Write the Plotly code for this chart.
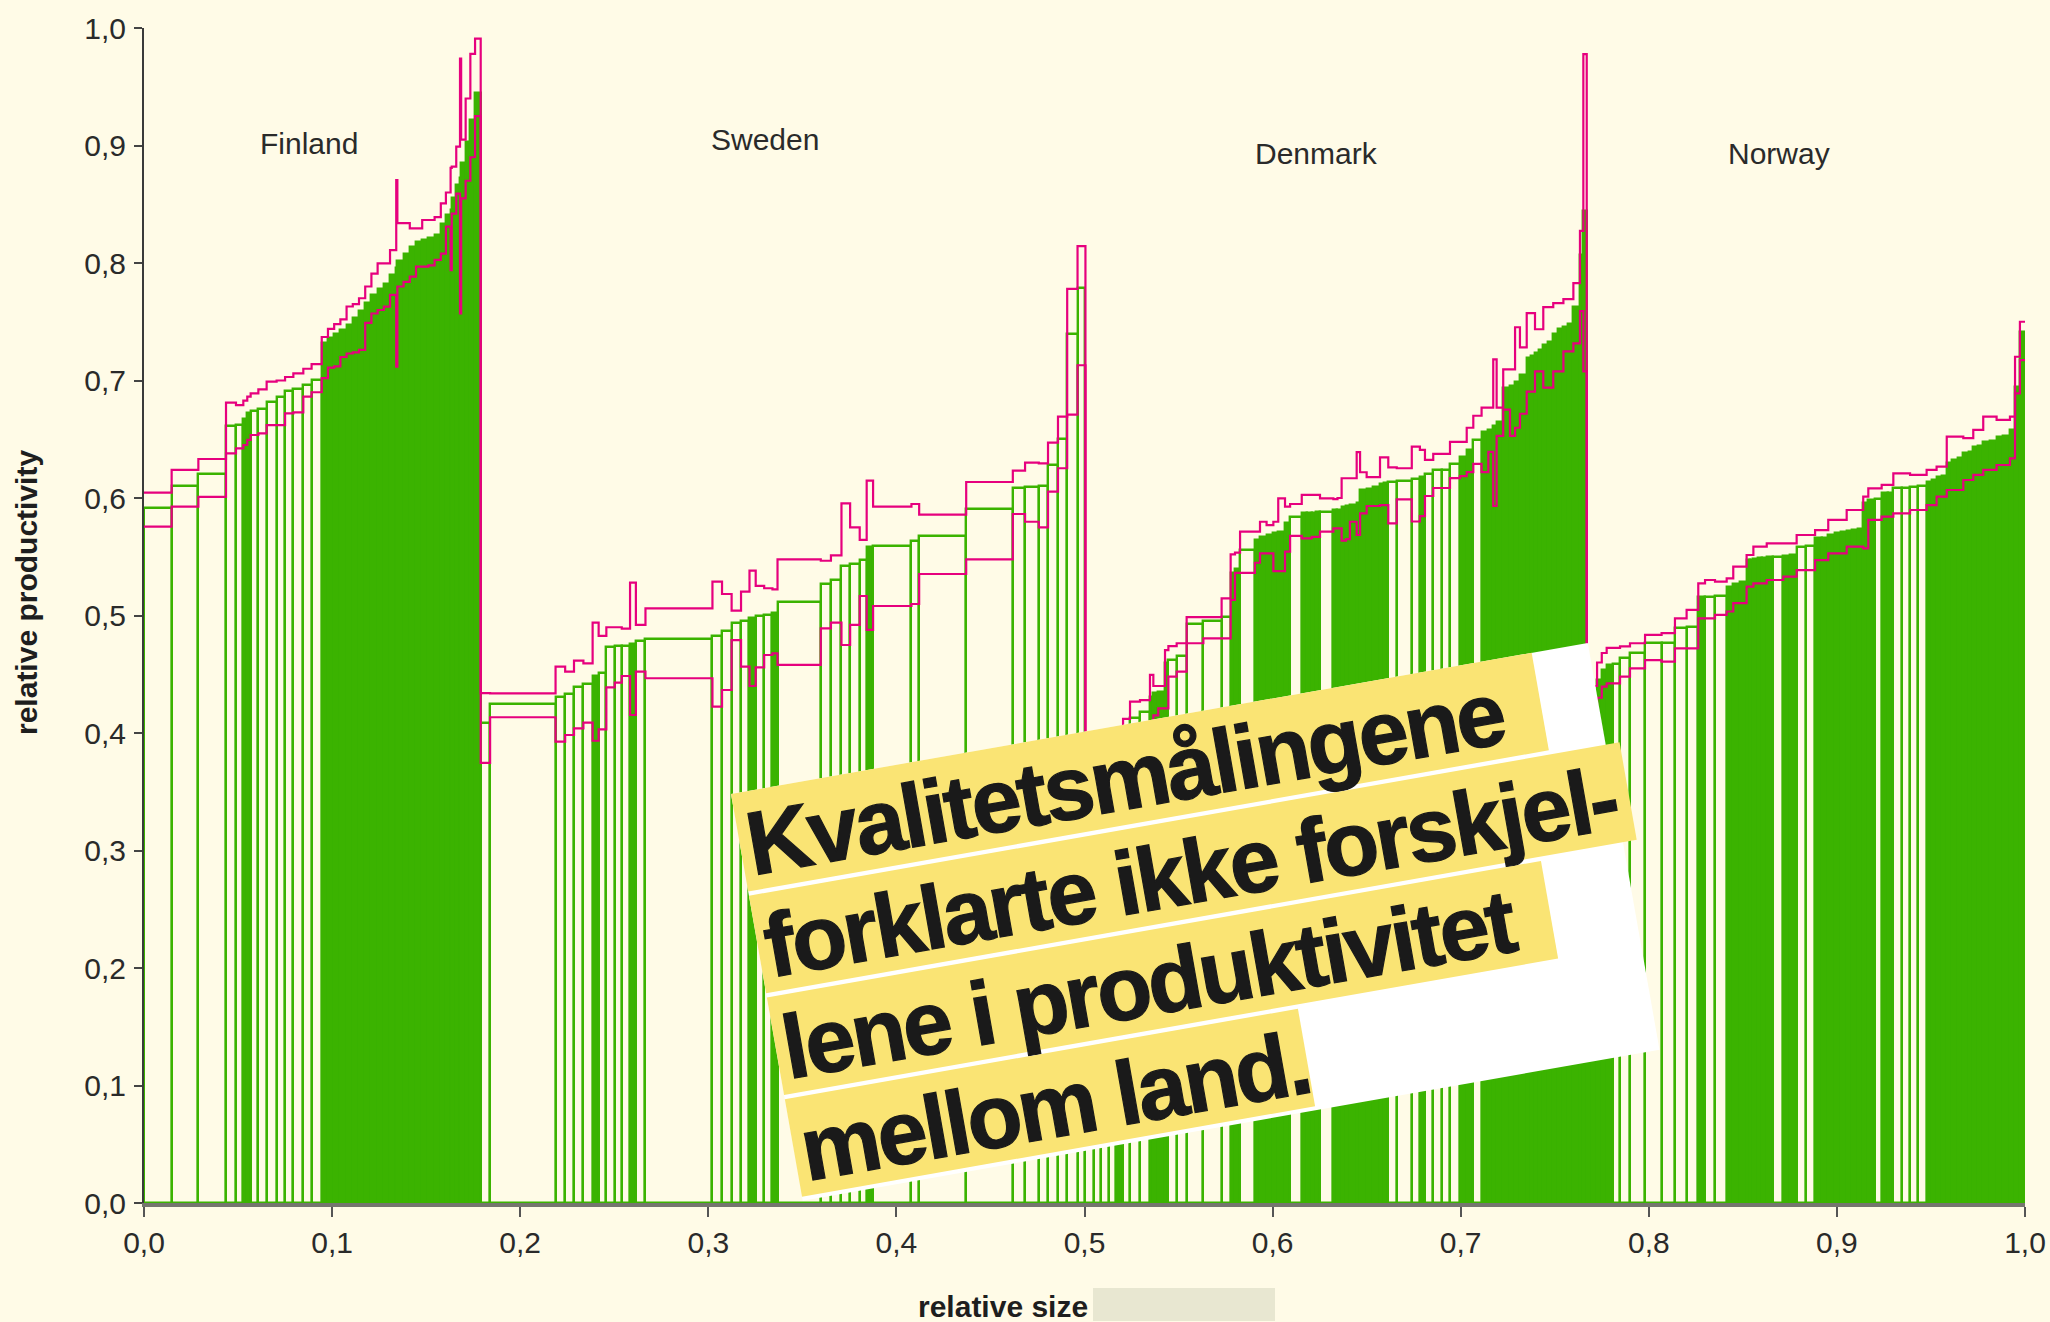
import math
import numpy as np
import plotly.graph_objects as go

# ---------------- data ----------------
COUNTRIES = ["Finland", "Sweden", "Denmark", "Norway"]
TICKS = [0.0, 0.1, 0.2, 0.3, 0.4, 0.5, 0.6, 0.7, 0.8, 0.9, 1.0]

FIN_SIZE = [0.0147, 0.0142, 0.0147, 0.0053, 0.0039, 0.0021, 0.0018, 0.0041, 0.0044, 0.0053,
            0.0045, 0.0044, 0.0053, 0.0044, 0.0054,
            0.0033, 0.0033, 0.0033, 0.0033, 0.0033, 0.0033, 0.0033, 0.0033, 0.0033, 0.0033,
            0.0033, 0.0033, 0.0006, 0.0033, 0.0033, 0.0033, 0.0033, 0.0033, 0.0033, 0.0033,
            0.0027, 0.0025, 0.0006, 0.0024, 0.0020, 0.0006, 0.0024, 0.0025, 0.0025, 0.0030]
FIN_PROD = [0.5917, 0.610, 0.6204, 0.6613, 0.6621, 0.6670, 0.6721, 0.6743, 0.6755, 0.6821,
            0.6862, 0.6913, 0.6925, 0.6962, 0.7004,
            0.732, 0.736, 0.740, 0.743, 0.747, 0.753, 0.759, 0.766, 0.773, 0.778,
            0.782, 0.790, 0.796, 0.802, 0.808, 0.814, 0.818, 0.820, 0.821, 0.824,
            0.833, 0.841, 0.845, 0.855, 0.866, 0.872, 0.885, 0.903, 0.922, 0.945]
FIN_HIGH = [0.6045, 0.624, 0.6332, 0.6811, 0.6791, 0.6828, 0.6862, 0.6891, 0.6925, 0.699,
            0.700, 0.703, 0.706, 0.710, 0.714,
            0.737, 0.744, 0.748, 0.752, 0.763, 0.765, 0.770, 0.780, 0.791, 0.7997,
            0.7997, 0.811, 0.8706, 0.834, 0.834, 0.8295, 0.8295, 0.8366, 0.8366, 0.839,
            0.8508, 0.860, 0.881, 0.882, 0.899, 0.974, 0.905, 0.940, 0.978, 0.991]
FIN_LOW = [0.5757, 0.5926, 0.601, 0.638, 0.6423, 0.6451, 0.6494, 0.6536, 0.655, 0.6621,
           0.6621, 0.6721, 0.6729, 0.6862, 0.690,
           0.702, 0.711, 0.712, 0.720, 0.723, 0.724, 0.726, 0.749, 0.757, 0.760,
           0.7628, 0.7728, 0.7117, 0.780, 0.784, 0.7884, 0.7969, 0.7969, 0.798, 0.8026,
           0.808, 0.831, 0.794, 0.842, 0.859, 0.757, 0.855, 0.870, 0.890, 0.925]

SWE_SIZE = [0.0050, 0.0348, 0.0051, 0.0047, 0.0050, 0.0049, 0.0032, 0.0041, 0.0045, 0.0037,
            0.0044, 0.0031, 0.0051, 0.0356, 0.0051, 0.0051, 0.0050, 0.0045, 0.0033, 0.0045,
            0.0044, 0.0027, 0.0230, 0.0054, 0.0056, 0.0046, 0.0051, 0.0037, 0.0034, 0.0204,
            0.0041, 0.0250, 0.0248, 0.0065, 0.0073, 0.0049, 0.0053, 0.0049, 0.0055, 0.0042]
SWE_PROD = [0.4085, 0.4247, 0.4309, 0.4332, 0.4394, 0.4417, 0.4485, 0.4513, 0.4729, 0.4740,
            0.4740, 0.4754, 0.4786, 0.4797, 0.4826, 0.4871, 0.4939, 0.4956, 0.4976, 0.4996,
            0.5004, 0.5019, 0.5118, 0.5268, 0.5302, 0.5421, 0.5438, 0.5472, 0.5586, 0.5591,
            0.5637, 0.5679, 0.5904, 0.6082, 0.6091, 0.6102, 0.6281, 0.6500, 0.7396, 0.7787]
SWE_HIGH = [0.434, 0.4338, 0.4565, 0.4523, 0.4616, 0.4593, 0.4939, 0.4826, 0.4900, 0.4900,
            0.4889, 0.5280, 0.4920, 0.5061, 0.5288, 0.5183, 0.5041, 0.5203, 0.5382, 0.5252,
            0.5232, 0.5223, 0.5478, 0.5466, 0.5512, 0.5954, 0.5750, 0.5643, 0.6148, 0.5926,
            0.5949, 0.5858, 0.6136, 0.6233, 0.6301, 0.6295, 0.6471, 0.6692, 0.778, 0.8144]
SWE_LOW = [0.3745, 0.4134, 0.3926, 0.3983, 0.4040, 0.4088, 0.3934, 0.4031, 0.4389, 0.4429,
           0.4485, 0.4153, 0.4523, 0.4466, 0.4224, 0.4366, 0.4791, 0.4565, 0.4400, 0.4559,
           0.4664, 0.4678, 0.4579, 0.4891, 0.4939, 0.4749, 0.4920, 0.5166, 0.4877, 0.5081,
           0.5098, 0.5353, 0.5478, 0.5864, 0.5798, 0.5750, 0.6054, 0.6253, 0.671, 0.713]

DEN_SIZE = [0.0045, 0.0040, 0.0040, 0.0040, 0.0035, 0.0037, 0.0053, 0.0053, 0.0018, 0.0026,
            0.0036, 0.0018, 0.0044, 0.0053, 0.0089, 0.0097, 0.0048, 0.0023, 0.0027, 0.0079,
            0.0027, 0.0035, 0.0036, 0.0026, 0.0036, 0.0027, 0.0062, 0.0030, 0.0023, 0.0022,
            0.0022, 0.0071, 0.0022, 0.0022, 0.0023, 0.0021, 0.0036, 0.0018, 0.0035, 0.0035,
            0.0036, 0.0022, 0.0022, 0.0045, 0.0080, 0.0043, 0.0027, 0.0044, 0.0046, 0.0043,
            0.0053, 0.0036, 0.0035, 0.0044, 0.0036, 0.0026, 0.0018, 0.0035, 0.0036, 0.0027,
            0.0026, 0.0036, 0.0022, 0.0022, 0.0022, 0.0022, 0.0026, 0.0027, 0.0027, 0.0027,
            0.0026, 0.0027, 0.0035, 0.0018, 0.0018]
DEN_PROD = [0.33, 0.35, 0.36, 0.37, 0.385, 0.40, 0.413, 0.4181, 0.4309, 0.4338,
            0.4352, 0.4598, 0.4621, 0.4655, 0.4928, 0.4956, 0.4985, 0.5364, 0.5400, 0.5557,
            0.5642, 0.5670, 0.5685, 0.5699, 0.5713, 0.5784, 0.5835, 0.5869, 0.5872, 0.5875,
            0.5878, 0.5884, 0.5894, 0.5898, 0.5926, 0.5930, 0.5940, 0.5960, 0.6066, 0.6076,
            0.6090, 0.6123, 0.6125, 0.6137, 0.6146, 0.6166, 0.6180, 0.6204, 0.6238, 0.6238,
            0.6290, 0.6352, 0.6410, 0.6495, 0.6564, 0.6580, 0.6615, 0.6648, 0.6940, 0.6957,
            0.6991, 0.7043, 0.7190, 0.7205, 0.7235, 0.7260, 0.7300, 0.7330, 0.7400, 0.7435,
            0.7455, 0.7480, 0.7624, 0.8068, 0.8445]
DEN_HIGH = [0.35, 0.37, 0.38, 0.39, 0.40, 0.412, 0.4267, 0.428, 0.4494, 0.4400,
            0.4400, 0.4706, 0.4740, 0.4764, 0.4987, 0.4987, 0.5146, 0.5521, 0.5535, 0.5713,
            0.5713, 0.5798, 0.5770, 0.5798, 0.5997, 0.5926, 0.5949, 0.6026, 0.6026, 0.6026,
            0.6026, 0.5997, 0.5990, 0.6000, 0.6168, 0.6168, 0.6168, 0.6390, 0.6219, 0.6177,
            0.6177, 0.6346, 0.6346, 0.6261, 0.6253, 0.6437, 0.6410, 0.6324, 0.6375, 0.6375,
            0.6478, 0.6478, 0.6598, 0.6700, 0.6769, 0.6769, 0.7180, 0.6769, 0.7094, 0.7094,
            0.7453, 0.7282, 0.7573, 0.7573, 0.7436, 0.7436, 0.7624, 0.7624, 0.7658, 0.7658,
            0.7692, 0.7692, 0.7829, 0.8273, 0.9778]
DEN_LOW = [0.31, 0.33, 0.34, 0.35, 0.365, 0.385, 0.400, 0.405, 0.410, 0.415,
           0.4209, 0.4209, 0.4479, 0.4522, 0.4764, 0.4806, 0.4806, 0.5132, 0.5362, 0.5362,
           0.5449, 0.5529, 0.5529, 0.5378, 0.5378, 0.5543, 0.5677, 0.5657, 0.5657, 0.5670,
           0.5670, 0.5713, 0.5742, 0.5742, 0.5637, 0.5650, 0.5798, 0.5685, 0.5869, 0.5932,
           0.5932, 0.5940, 0.5940, 0.5784, 0.5989, 0.5800, 0.5846, 0.6017, 0.6085, 0.6085,
           0.6170, 0.6187, 0.6221, 0.6290, 0.6221, 0.6393, 0.5932, 0.6529, 0.6752, 0.6529,
           0.6598, 0.6717, 0.6905, 0.6905, 0.7077, 0.7077, 0.6940, 0.6940, 0.7077, 0.7077,
           0.7248, 0.7248, 0.7316, 0.7590, 0.7077]

NOR_SIZE = [0.0030, 0.0025, 0.0025, 0.0026, 0.0034, 0.0037, 0.0053, 0.0080, 0.0088, 0.0071,
            0.0062, 0.0062, 0.0036, 0.0053, 0.0062, 0.0035, 0.0036, 0.0035, 0.0018, 0.0018,
            0.0024, 0.0024, 0.0023, 0.0035, 0.0053, 0.0035, 0.0036, 0.0049, 0.0049, 0.0036,
            0.0034, 0.0036, 0.0030, 0.0032, 0.0030, 0.0030, 0.0028, 0.0027, 0.0033, 0.0038,
            0.0032, 0.0030, 0.0045, 0.0044, 0.0044, 0.0044, 0.0026, 0.0027, 0.0027, 0.0027,
            0.0029, 0.0030, 0.0029, 0.0028, 0.0025, 0.0027, 0.0026, 0.0036, 0.0035, 0.0036,
            0.0035, 0.0027, 0.0026, 0.0027]
NOR_PROD = [0.40, 0.42, 0.445, 0.4536, 0.4579, 0.4590, 0.4635, 0.4684, 0.4764, 0.4764,
            0.4891, 0.4905, 0.5160, 0.5160, 0.5165, 0.5245, 0.5270, 0.5288, 0.5472, 0.5475,
            0.5480, 0.5487, 0.5490, 0.5501, 0.5501, 0.5510, 0.5515, 0.5586, 0.5590, 0.5657,
            0.5660, 0.5685, 0.5700, 0.5710, 0.5720, 0.5727, 0.5735, 0.5954, 0.5983, 0.5990,
            0.6040, 0.6045, 0.6082, 0.6085, 0.6097, 0.6100, 0.6139, 0.6150, 0.6182, 0.6190,
            0.6300, 0.6324, 0.6340, 0.6381, 0.6390, 0.6438, 0.6445, 0.6480, 0.6485, 0.6523,
            0.6530, 0.6580, 0.6947, 0.7415]
NOR_HIGH = [0.42, 0.44, 0.46, 0.4681, 0.4724, 0.4724, 0.4738, 0.4764, 0.4835, 0.4850,
            0.4976, 0.5048, 0.5274, 0.5302, 0.5288, 0.5316, 0.5416, 0.5416, 0.5515, 0.5515,
            0.5586, 0.5586, 0.5586, 0.5614, 0.5614, 0.5614, 0.5614, 0.5685, 0.5685, 0.5727,
            0.5727, 0.5813, 0.5813, 0.5813, 0.5898, 0.5898, 0.5898, 0.6011, 0.6082, 0.6082,
            0.6111, 0.6111, 0.6210, 0.6210, 0.6196, 0.6196, 0.6239, 0.6239, 0.6267, 0.6267,
            0.6523, 0.6523, 0.6523, 0.6509, 0.6509, 0.6580, 0.6580, 0.6693, 0.6693, 0.6665,
            0.6665, 0.6693, 0.7202, 0.7500]
NOR_LOW = [0.38, 0.40, 0.43, 0.4394, 0.4423, 0.4423, 0.4479, 0.4550, 0.4621, 0.4607,
           0.4721, 0.4721, 0.4976, 0.4976, 0.5005, 0.5034, 0.5106, 0.5106, 0.5245, 0.5245,
           0.5274, 0.5274, 0.5274, 0.5302, 0.5302, 0.5330, 0.5330, 0.5387, 0.5387, 0.5472,
           0.5472, 0.5529, 0.5529, 0.5529, 0.5586, 0.5586, 0.5586, 0.5572, 0.5813, 0.5813,
           0.5841, 0.5841, 0.5869, 0.5869, 0.5898, 0.5898, 0.5940, 0.5940, 0.6011, 0.6011,
           0.6068, 0.6068, 0.6068, 0.6153, 0.6153, 0.6196, 0.6196, 0.6239, 0.6239, 0.6281,
           0.6281, 0.6338, 0.6891, 0.7174]

HEADLINE = ["Kvalitetsmålingene", "forklarte ikke forskjel-", "lene i produktivitet", "mellom land."]

# ---------------- assemble ----------------
sizes = np.array(FIN_SIZE + SWE_SIZE + DEN_SIZE + NOR_SIZE)
prod = np.array(FIN_PROD + SWE_PROD + DEN_PROD + NOR_PROD)
high = np.array(FIN_HIGH + SWE_HIGH + DEN_HIGH + NOR_HIGH)
low = np.array(FIN_LOW + SWE_LOW + DEN_LOW + NOR_LOW)

left = np.concatenate([[0.0], np.cumsum(sizes)[:-1]])
centers = left + sizes / 2
edges = np.append(left, left[-1] + sizes[-1])

BG = "#fffbe7"
GREEN = "#3bb300"
MAGENTA = "#e6007e"
INK = "#2a2a2a"
FONT = "Liberation Sans, Arial, sans-serif"

# narrow bars read as solid green blocks, wide ones as outlines
fills = [GREEN if w < 0.00365 else "rgba(0,0,0,0)" for w in sizes]

fig = go.Figure()
fig.add_trace(go.Bar(x=centers, y=prod, width=sizes,
                     marker=dict(color=fills, line=dict(color=GREEN, width=2.4)),
                     hoverinfo="skip"))
for band in (low, high):
    fig.add_trace(go.Scatter(x=edges, y=np.append(band, band[-1]), mode="lines",
                             line=dict(color=MAGENTA, width=2.2, shape="hv"),
                             hoverinfo="skip"))

# ---------------- layout ----------------
L, R, T, B = 144, 25, 28, 119
W, H = 2050, 1322
PW, PH = W - L - R, H - T - B


def to_paper(X, Y):
    return (X - L) / PW, (H - B - Y) / PH


ang = math.radians(10)
OX, OY = 731, 794


def frame(u, v):
    X = OX + u * math.cos(ang) + v * math.sin(ang)
    Y = OY - u * math.sin(ang) + v * math.cos(ang)
    return to_paper(X, Y)


def rot_rect(u0, u1, v0, v1):
    pts = [frame(u0, v0), frame(u1, v0), frame(u1, v1), frame(u0, v1)]
    return "M " + " L ".join(f"{x:.5f},{y:.5f}" for x, y in pts) + " Z"


shapes = [dict(type="path", xref="paper", yref="paper", path=rot_rect(0, 870, 0, 413),
               fillcolor="#ffffff", line=dict(width=0), layer="above")]
line_len = [813, 884, 786, 521]
pitch, lh = 103.3, 99
for i, ln in enumerate(line_len):
    shapes.append(dict(type="path", xref="paper", yref="paper",
                       path=rot_rect(0, ln, i * pitch, i * pitch + lh),
                       fillcolor="#fae474", line=dict(width=0), layer="above"))
gx0, gy1 = to_paper(1093, 1288)
gx1, gy0 = to_paper(1275, 1321)
shapes.append(dict(type="rect", xref="paper", yref="paper", x0=gx0, x1=gx1, y0=gy0, y1=gy1,
                   fillcolor="#e8e7d1", line=dict(width=0)))

annotations = []
label_pos = {"Finland": (0.0877, 0.902), "Sweden": (0.330, 0.9047),
             "Denmark": (0.6236, 0.8928), "Norway": (0.8692, 0.8928)}
for c in COUNTRIES:
    x, y = label_pos[c]
    annotations.append(dict(x=x, y=y, xref="x", yref="y", text=c, showarrow=False,
                            xanchor="center", yanchor="middle",
                            font=dict(family=FONT, size=30, color=INK)))

ax, ay = to_paper(1003, 1306)
annotations.append(dict(x=ax, y=ay, xref="paper", yref="paper", text="<b>relative size</b>",
                        showarrow=False, xanchor="center", yanchor="middle",
                        font=dict(family=FONT, size=30, color="#1e1e1e")))
ax, ay = to_paper(26, 592)
annotations.append(dict(x=ax, y=ay, xref="paper", yref="paper",
                        text="<b>relative productivity</b>", textangle=-90,
                        showarrow=False, xanchor="center", yanchor="middle",
                        font=dict(family=FONT, size=30, color="#1e1e1e")))

for i, (txt, ln) in enumerate(zip(HEADLINE, line_len)):
    bw = ln + 40
    px, py = frame(7 + bw / 2, i * pitch + lh / 2 + 4)
    styled = ("<b><span style='letter-spacing:-3px;stroke:#1a1a1a;stroke-width:1.2px'>"
              + txt + "</span></b>")
    annotations.append(dict(x=px, y=py, xref="paper", yref="paper", text=styled,
                            showarrow=False, textangle=-10, width=bw, align="left",
                            xanchor="center", yanchor="middle", borderpad=0,
                            font=dict(family=FONT, size=90, color="#1a1a1a")))

fig.update_layout(
    width=W, height=H, margin=dict(l=L, r=R, t=T, b=B, autoexpand=False),
    paper_bgcolor=BG, plot_bgcolor=BG, separators=", ",
    showlegend=False, barmode="overlay", bargap=0,
    font=dict(family=FONT, size=30, color=INK),
    xaxis=dict(range=[0, 1], tickmode="array", tickvals=TICKS, tickformat=".1f",
               showgrid=False, zeroline=False, showline=True, linecolor="#75756e",
               linewidth=4, ticks="outside", ticklen=10, tickwidth=1.5, tickcolor="#555",
               ticklabelstandoff=0, fixedrange=True, automargin=False),
    yaxis=dict(range=[0, 1], tickmode="array", tickvals=TICKS, tickformat=".1f",
               showgrid=False, zeroline=False, showline=True, linecolor="#3a3a3a",
               linewidth=2, ticks="outside", ticklen=8, tickwidth=1.5, tickcolor="#444",
               ticklabelstandoff=2, fixedrange=True, automargin=False),
    shapes=shapes, annotations=annotations,
)

fig.write_html("out.html",
               config={"displayModeBar": False},
               post_script="document.body.style.margin='0px';"
                           "document.body.style.background='" + BG + "';")
